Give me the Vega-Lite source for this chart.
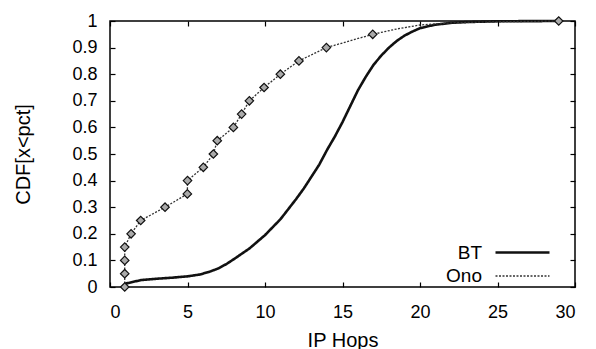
{
  "$schema": "https://vega.github.io/schema/vega-lite/v6.json",
  "width": 465,
  "height": 266,
  "autosize": "none",
  "padding": {"left": 110, "top": 21, "right": 21, "bottom": 62},
  "background": "white",
  "config": {
    "view": {"stroke": "black", "strokeWidth": 1.5},
    "font": "Liberation Sans",
    "axis": {
      "labelFont": "Liberation Sans",
      "labelFontSize": 18,
      "labelColor": "black",
      "titleFont": "Liberation Sans",
      "titleFontSize": 20,
      "titleFontWeight": "normal",
      "titleColor": "black",
      "grid": false,
      "domain": false,
      "tickColor": "black",
      "tickOpacity": 1,
      "tickWidth": 1.2,
      "zindex": 1
    },
    "legend": {
      "labelFont": "Liberation Sans",
      "labelFontSize": 19,
      "labelColor": "black"
    }
  },
  "data": {
    "values": [
      {"series": "BT", "hops": 0.95, "cdf": 0.012, "marker": false},
      {"series": "BT", "hops": 2.0, "cdf": 0.026, "marker": false},
      {"series": "BT", "hops": 3.0, "cdf": 0.031, "marker": false},
      {"series": "BT", "hops": 4.0, "cdf": 0.035, "marker": false},
      {"series": "BT", "hops": 5.0, "cdf": 0.04, "marker": false},
      {"series": "BT", "hops": 5.8, "cdf": 0.047, "marker": false},
      {"series": "BT", "hops": 6.45, "cdf": 0.058, "marker": false},
      {"series": "BT", "hops": 7.0, "cdf": 0.07, "marker": false},
      {"series": "BT", "hops": 7.53, "cdf": 0.087, "marker": false},
      {"series": "BT", "hops": 8.0, "cdf": 0.105, "marker": false},
      {"series": "BT", "hops": 9.0, "cdf": 0.145, "marker": false},
      {"series": "BT", "hops": 10.0, "cdf": 0.195, "marker": false},
      {"series": "BT", "hops": 10.5, "cdf": 0.225, "marker": false},
      {"series": "BT", "hops": 11.0, "cdf": 0.255, "marker": false},
      {"series": "BT", "hops": 12.0, "cdf": 0.33, "marker": false},
      {"series": "BT", "hops": 12.5, "cdf": 0.37, "marker": false},
      {"series": "BT", "hops": 13.0, "cdf": 0.415, "marker": false},
      {"series": "BT", "hops": 13.5, "cdf": 0.46, "marker": false},
      {"series": "BT", "hops": 14.0, "cdf": 0.515, "marker": false},
      {"series": "BT", "hops": 14.5, "cdf": 0.565, "marker": false},
      {"series": "BT", "hops": 15.0, "cdf": 0.62, "marker": false},
      {"series": "BT", "hops": 15.5, "cdf": 0.68, "marker": false},
      {"series": "BT", "hops": 16.0, "cdf": 0.74, "marker": false},
      {"series": "BT", "hops": 16.5, "cdf": 0.79, "marker": false},
      {"series": "BT", "hops": 17.0, "cdf": 0.835, "marker": false},
      {"series": "BT", "hops": 17.5, "cdf": 0.87, "marker": false},
      {"series": "BT", "hops": 18.0, "cdf": 0.9, "marker": false},
      {"series": "BT", "hops": 18.5, "cdf": 0.925, "marker": false},
      {"series": "BT", "hops": 19.0, "cdf": 0.945, "marker": false},
      {"series": "BT", "hops": 19.5, "cdf": 0.96, "marker": false},
      {"series": "BT", "hops": 20.0, "cdf": 0.973, "marker": false},
      {"series": "BT", "hops": 20.5, "cdf": 0.98, "marker": false},
      {"series": "BT", "hops": 21.0, "cdf": 0.986, "marker": false},
      {"series": "BT", "hops": 22.0, "cdf": 0.993, "marker": false},
      {"series": "BT", "hops": 23.0, "cdf": 0.996, "marker": false},
      {"series": "BT", "hops": 25.0, "cdf": 0.999, "marker": false},
      {"series": "BT", "hops": 29.0, "cdf": 1.0, "marker": false},
      {"series": "Ono", "hops": 0.95, "cdf": 0.0, "marker": true},
      {"series": "Ono", "hops": 0.95, "cdf": 0.05, "marker": true},
      {"series": "Ono", "hops": 0.95, "cdf": 0.1, "marker": true},
      {"series": "Ono", "hops": 0.95, "cdf": 0.15, "marker": true},
      {"series": "Ono", "hops": 1.36, "cdf": 0.2, "marker": true},
      {"series": "Ono", "hops": 1.98, "cdf": 0.25, "marker": true},
      {"series": "Ono", "hops": 3.55, "cdf": 0.3, "marker": true},
      {"series": "Ono", "hops": 4.99, "cdf": 0.35, "marker": true},
      {"series": "Ono", "hops": 5.0, "cdf": 0.4, "marker": true},
      {"series": "Ono", "hops": 6.02, "cdf": 0.45, "marker": true},
      {"series": "Ono", "hops": 6.67, "cdf": 0.5, "marker": true},
      {"series": "Ono", "hops": 6.92, "cdf": 0.55, "marker": true},
      {"series": "Ono", "hops": 7.96, "cdf": 0.6, "marker": true},
      {"series": "Ono", "hops": 8.49, "cdf": 0.65, "marker": true},
      {"series": "Ono", "hops": 8.99, "cdf": 0.7, "marker": true},
      {"series": "Ono", "hops": 9.94, "cdf": 0.75, "marker": true},
      {"series": "Ono", "hops": 10.99, "cdf": 0.8, "marker": true},
      {"series": "Ono", "hops": 12.19, "cdf": 0.85, "marker": true},
      {"series": "Ono", "hops": 13.96, "cdf": 0.9, "marker": true},
      {"series": "Ono", "hops": 16.95, "cdf": 0.95, "marker": true},
      {"series": "Ono", "hops": 18.5, "cdf": 0.97, "marker": false},
      {"series": "Ono", "hops": 20.0, "cdf": 0.985, "marker": false},
      {"series": "Ono", "hops": 22.0, "cdf": 0.993, "marker": false},
      {"series": "Ono", "hops": 25.0, "cdf": 0.997, "marker": false},
      {"series": "Ono", "hops": 28.95, "cdf": 1.0, "marker": true}
    ]
  },
  "layer": [
    {
      "mark": {"type": "line", "interpolate": "linear"},
      "encoding": {
        "x": {
          "field": "hops", "type": "quantitative",
          "scale": {"domain": [0, 30], "nice": false, "zero": false},
          "axis": {"values": [0, 5, 10, 15, 20, 25, 30], "title": "IP Hops", "ticks": true, "tickSize": 5, "offset": -5, "labelPadding": 16, "titlePadding": 9}
        },
        "y": {
          "field": "cdf", "type": "quantitative",
          "scale": {"domain": [0, 1], "nice": false},
          "axis": {"values": [0, 0.1, 0.2, 0.3, 0.4, 0.5, 0.6, 0.7, 0.8, 0.9, 1], "format": ".1~f", "title": "CDF[x<pct]", "ticks": true, "tickSize": 5, "offset": -5, "labelPadding": 13, "titlePadding": 38}
        },
        "order": {"field": "cdf", "type": "quantitative"},
        "strokeDash": {
          "field": "series", "type": "nominal",
          "scale": {"domain": ["BT", "Ono"], "range": [[1, 0], [2, 1.5]]},
          "legend": {"orient": "none", "legendX": 384, "legendY": 220, "title": null, "symbolType": "M-2.7,0L2.7,0", "symbolSize": 400, "symbolOffset": 17, "labelAlign": "right", "labelOffset": -52, "rowPadding": 2, "padding": 0}
        },
        "strokeWidth": {
          "field": "series", "type": "nominal",
          "scale": {"domain": ["BT", "Ono"], "range": [2.6, 1.3]},
          "legend": {"orient": "none", "legendX": 384, "legendY": 220, "title": null, "symbolType": "M-2.7,0L2.7,0", "symbolSize": 400, "symbolOffset": 17, "labelAlign": "right", "labelOffset": -52, "rowPadding": 2, "padding": 0}
        },
        "color": {
          "field": "series", "type": "nominal",
          "scale": {"domain": ["BT", "Ono"], "range": ["#111111", "#333333"]},
          "legend": {"orient": "none", "legendX": 384, "legendY": 220, "title": null, "symbolType": "M-2.7,0L2.7,0", "symbolSize": 400, "symbolOffset": 17, "labelAlign": "right", "labelOffset": -52, "rowPadding": 2, "padding": 0}
        }
      }
    },
    {
      "transform": [{"filter": "datum.marker"}],
      "mark": {"type": "point", "shape": "diamond", "filled": true, "fill": "#aaaaaa", "stroke": "#111111", "strokeWidth": 1.2, "size": 72, "opacity": 1},
      "encoding": {
        "x": {
          "field": "hops", "type": "quantitative",
          "axis": {"orient": "top", "labels": false, "title": null, "ticks": true, "tickSize": 5, "offset": -5, "values": [0, 5, 10, 15, 20, 25, 30]}
        },
        "y": {
          "field": "cdf", "type": "quantitative",
          "axis": {"orient": "right", "labels": false, "title": null, "ticks": true, "tickSize": 5, "offset": -5, "values": [0, 0.1, 0.2, 0.3, 0.4, 0.5, 0.6, 0.7, 0.8, 0.9, 1]}
        }
      }
    }
  ],
  "resolve": {"axis": {"x": "independent", "y": "independent"}}
}
